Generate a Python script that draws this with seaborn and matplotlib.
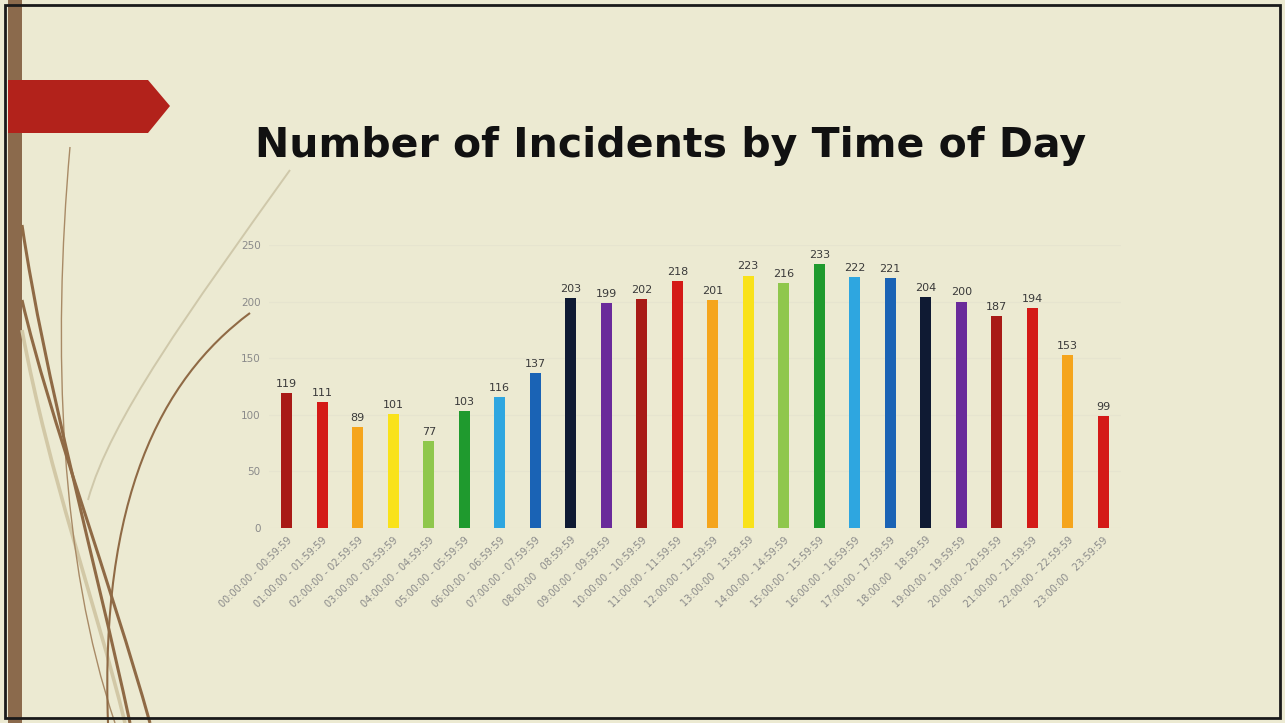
import seaborn as sns
import matplotlib.pyplot as plt
import pandas as pd
from matplotlib.patches import Rectangle, Polygon, PathPatch
from matplotlib.path import Path

# data
hours = ['00:00:00 - 00:59:59', '01:00:00 - 01:59:59', '02:00:00 - 02:59:59', '03:00:00 - 03:59:59',
         '04:00:00 - 04:59:59', '05:00:00 - 05:59:59', '06:00:00 - 06:59:59', '07:00:00 - 07:59:59',
         '08:00:00   08:59:59', '09:00:00 - 09:59:59', '10:00:00 - 10:59:59', '11:00:00 - 11:59:59',
         '12:00:00 - 12:59:59', '13:00:00   13:59:59', '14:00:00 - 14:59:59', '15:00:00 - 15:59:59',
         '16:00:00 - 16:59:59', '17:00:00 - 17:59:59', '18:00:00   18:59:59', '19:00:00 - 19:59:59',
         '20:00:00 - 20:59:59', '21:00:00 - 21:59:59', '22:00:00 - 22:59:59', '23:00:00   23:59:59']
incidents = [119, 111, 89, 101, 77, 103, 116, 137, 203, 199, 202, 218,
             201, 223, 216, 233, 222, 221, 204, 200, 187, 194, 153, 99]
colors = ['#a81a16', '#d41a17', '#f5a51c', '#f9e21a', '#8fc74c', '#1f9a2e', '#2ea6e0', '#1a63b5',
          '#0f1a33', '#6a2a9a', '#a81a16', '#d41a17', '#f5a51c', '#f9e21a', '#8fc74c', '#1f9a2e',
          '#2ea6e0', '#1a63b5', '#0f1a33', '#6a2a9a', '#a81a16', '#d41a17', '#f5a51c', '#d41a17']

df = pd.DataFrame({'hour': hours, 'n': incidents})

W, H = 1285, 723
fig = plt.figure(figsize=(W / 100, H / 100), dpi=100)
fig.patch.set_facecolor('#ecead2')

def fx(x):
    return x / W

def fy(y):
    return 1 - y / H

# slide decoration: brown strip, red arrow, curves, frame
fig.patches.append(Rectangle((fx(8), 0), fx(14), 1, transform=fig.transFigure,
                             facecolor='#8b6a4c', edgecolor='none', zorder=0))
arrow = [(8, 80), (148, 80), (170, 106), (148, 133), (8, 133)]
fig.patches.append(Polygon([(fx(a), fy(b)) for a, b in arrow], closed=True,
                           transform=fig.transFigure, facecolor='#b2221b',
                           edgecolor='none', zorder=1))
curves = [
    ([(290, 170), (190, 310), (110, 420), (88, 500)], 1.4, '#cfc8aa'),
    ([(22, 330), (50, 480), (95, 600), (125, 723)], 2.6, '#d2c8a6'),
    ([(70, 147), (52, 350), (60, 560), (115, 723)], 1.0, '#a88a66'),
    ([(22, 225), (45, 380), (95, 560), (130, 723)], 2.2, '#8f6a45'),
    ([(22, 300), (50, 420), (110, 580), (150, 723)], 2.2, '#8f6a45'),
    ([(250, 313), (160, 380), (100, 500), (108, 723)], 1.5, '#8f6a45'),
]
for pts, lw, col in curves:
    path = Path([(fx(a), fy(b)) for a, b in pts],
                [Path.MOVETO, Path.CURVE4, Path.CURVE4, Path.CURVE4])
    fig.patches.append(PathPatch(path, transform=fig.transFigure, facecolor='none',
                                 edgecolor=col, lw=lw, zorder=1))
fig.patches.append(Rectangle((fx(5), fy(718)), fx(1275), fy(5) - fy(718),
                             transform=fig.transFigure, facecolor='none',
                             edgecolor='#1a1a1a', lw=2, zorder=5))

fig.text(fx(671), fy(146), 'Number of Incidents by Time of Day', ha='center', va='center',
         fontsize=29.5, fontweight='bold', color='#111111', family='DejaVu Sans')

# axes: x from -0.5..23.5 -> 269..1121 px, y 0..250 -> 528..245 px
ax = fig.add_axes([fx(269), fy(528), fx(1121 - 269), fy(245) - fy(528)])
ax.set_facecolor('none')
sns.barplot(data=df, x='hour', y='n', hue='hour', palette=colors, legend=False,
            width=0.31, saturation=1, ax=ax)
for cont in ax.containers:
    ax.bar_label(cont, padding=3, fontsize=8, color='#3a3a3a')

ax.set_xlim(-0.5, 23.5)
ax.set_ylim(0, 250)
ax.set_yticks([0, 50, 100, 150, 200, 250])
ax.yaxis.grid(True, color='#e6e4cf', lw=0.8)
ax.set_axisbelow(True)
ax.tick_params(axis='y', length=0, labelsize=7.5, labelcolor='#8a8a8a', pad=6)
ax.tick_params(axis='x', length=0, labelsize=7, labelcolor='#8a8a8a', pad=5)
ax.set_xticks(range(len(hours)))
ax.set_xticklabels(hours, rotation=44, ha='right', rotation_mode='anchor')
ax.set_xlabel('')
ax.set_ylabel('')
for s in ax.spines.values():
    s.set_visible(False)

fig.savefig('out.png', dpi=100, facecolor=fig.get_facecolor())
